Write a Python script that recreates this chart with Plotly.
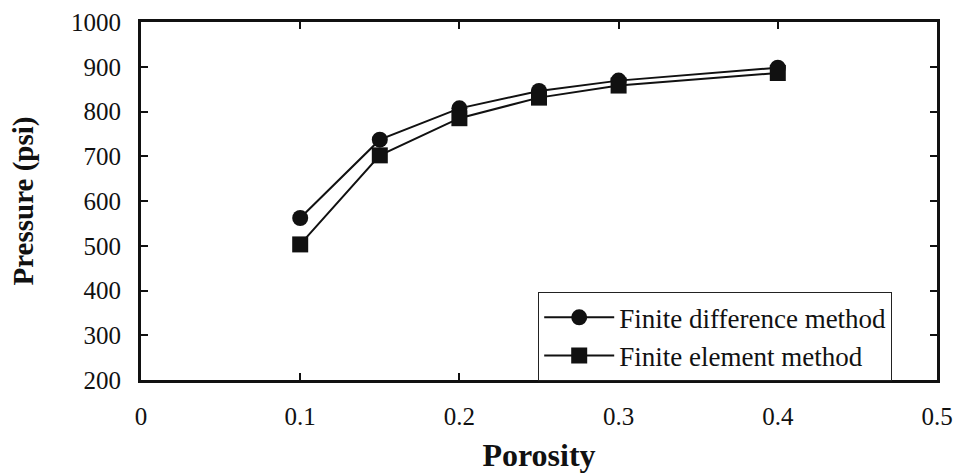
import plotly.graph_objects as go

porosity = [0.1, 0.15, 0.2, 0.25, 0.3, 0.4]
fd_pressure = [562, 737, 807, 846, 869, 898]
fe_pressure = [503, 702, 785, 831, 858, 886]
x_ticks = [0, 0.1, 0.2, 0.3, 0.4, 0.5]
x_tick_text = ["0", "0.1", "0.2", "0.3", "0.4", "0.5"]
y_ticks = [200, 300, 400, 500, 600, 700, 800, 900, 1000]

FONT = "Liberation Serif"

fig = go.Figure()
fig.add_trace(go.Scatter(
    x=porosity, y=fd_pressure, mode="lines+markers",
    name="Finite difference method",
    line=dict(color="#111111", width=2),
    marker=dict(symbol="circle", size=16, color="#111111"),
))
fig.add_trace(go.Scatter(
    x=porosity, y=fe_pressure, mode="lines+markers",
    name="Finite element method",
    line=dict(color="#111111", width=2),
    marker=dict(symbol="square", size=16, color="#111111"),
))

fig.update_layout(
    width=960, height=473,
    margin=dict(l=141, r=23, t=22, b=93, autoexpand=False),
    paper_bgcolor="white", plot_bgcolor="white",
    font=dict(family=FONT, color="#111111", size=25),
    showlegend=True,
    legend=dict(
        x=0.499, y=0.245, xanchor="left", yanchor="top",
        bgcolor="white", bordercolor="#222222", borderwidth=1,
        font=dict(family=FONT, size=27, color="#111111"),
        itemwidth=70, tracegroupgap=0,
    ),
)
fig.update_xaxes(
    range=[0, 0.5], tickvals=x_ticks, ticktext=x_tick_text,
    showgrid=False, zeroline=False,
    showline=True, linecolor="#111111", linewidth=3, mirror="ticks",
    ticks="inside", ticklen=7, tickwidth=2, tickcolor="#111111",
    tickfont=dict(family=FONT, size=25), ticklabelstandoff=12,
    title=dict(text="<b>Porosity</b>", font=dict(family=FONT, size=32), standoff=20),
    automargin=False,
)
fig.update_yaxes(
    range=[200, 1000], tickvals=y_ticks,
    showgrid=False, zeroline=False,
    showline=True, linecolor="#111111", linewidth=3, mirror="ticks",
    ticks="inside", ticklen=7, tickwidth=2, tickcolor="#111111",
    tickfont=dict(family=FONT, size=25), ticklabelstandoff=12,
    title=dict(text="<b>Pressure (psi)</b>", font=dict(family=FONT, size=29), standoff=29),
    automargin=False,
)

fig.write_html("out.html")
